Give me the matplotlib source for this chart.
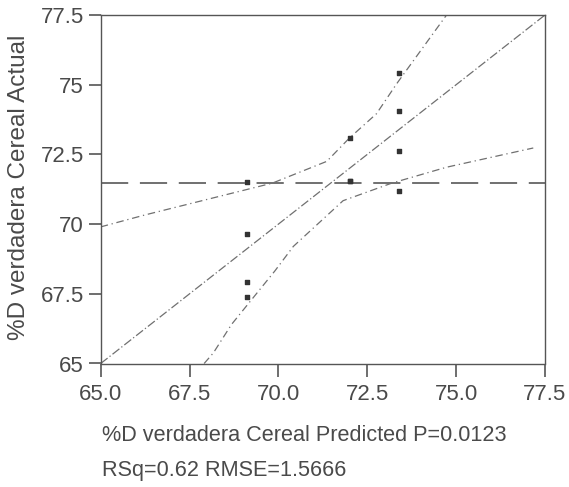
import matplotlib
matplotlib.use("Agg")
import matplotlib.pyplot as plt

plt.rcParams['font.family'] = ['Liberation Sans', 'DejaVu Sans']

# Observations: predicted vs actual
pred = [69.13, 69.13, 69.13, 69.13, 72.0, 72.0, 72.0, 73.38, 73.38, 73.38, 73.38]
actual = [71.5, 69.64, 67.93, 67.38, 73.09, 71.53, 71.53, 75.43, 74.06, 72.63, 71.17]

# Mean of the response (horizontal reference)
mean_actual = 71.47

# Fitted line (actual = predicted)
fit_x = [65.0, 77.5]
fit_y = [65.0, 77.5]

# Upper confidence curve
upper_x = [65.0, 66.25, 69.83, 71.36, 72.0, 72.76, 73.33, 74.73]
upper_y = [69.9, 70.33, 71.47, 72.25, 73.09, 73.96, 75.04, 77.5]

# Lower confidence curve
lower_x = [67.91, 68.17, 68.68, 69.9, 70.42, 71.82, 73.19, 74.73, 77.17]
lower_y = [65.0, 65.38, 66.4, 68.32, 69.2, 70.84, 71.47, 72.04, 72.73]

ticks = [65.0, 67.5, 70.0, 72.5, 75.0, 77.5]
xtick_labels = ["65.0", "67.5", "70.0", "72.5", "75.0", "77.5"]
ytick_labels = ["65", "67.5", "70", "72.5", "75", "77.5"]

txt = "#4a4a4a"
axc = "#555555"
linec = "#707070"

W, H = 569, 487
fig = plt.figure(figsize=(W / 100, H / 100), dpi=100)
ax = fig.add_axes([100.7 / W, 1 - 363.5 / H, 444.3 / W, 348.5 / H])

ax.axhline(mean_actual, color=linec, lw=1.4, dashes=(14, 6))
ax.plot(fit_x, fit_y, color=linec, lw=0.9, dashes=(7, 2, 1, 2))
ax.plot(upper_x, upper_y, color=linec, lw=0.9, dashes=(6, 3, 1, 3))
ax.plot(lower_x, lower_y, color=linec, lw=0.9, dashes=(6, 3, 1, 3))
ax.scatter(pred, actual, marker='s', s=10, color="#333333", zorder=5)

ax.set_xlim(65.0, 77.5)
ax.set_ylim(65.0, 77.5)
ax.set_xticks(ticks)
ax.set_xticklabels(xtick_labels)
ax.set_yticks(ticks)
ax.set_yticklabels(ytick_labels)

for s in ax.spines.values():
    s.set_color(axc)
    s.set_linewidth(1.0)
ax.tick_params(direction='out', length=9, width=1.2, color=axc,
               labelsize=16, labelcolor=txt)
ax.tick_params(axis='x', pad=6)
ax.tick_params(axis='y', pad=3)

fig.text(19 / W, 1 - 187 / H, "%D verdadera Cereal Actual", rotation=90,
         fontsize=17.5, color=txt, ha='center', va='center')
fig.text(102 / W, 1 - 441 / H, "%D verdadera Cereal Predicted P=0.0123",
         fontsize=15.6, color=txt, ha='left', va='baseline')
fig.text(102 / W, 1 - 476 / H, "RSq=0.62 RMSE=1.5666",
         fontsize=15.6, color=txt, ha='left', va='baseline')

fig.savefig("out.png", dpi=100)
